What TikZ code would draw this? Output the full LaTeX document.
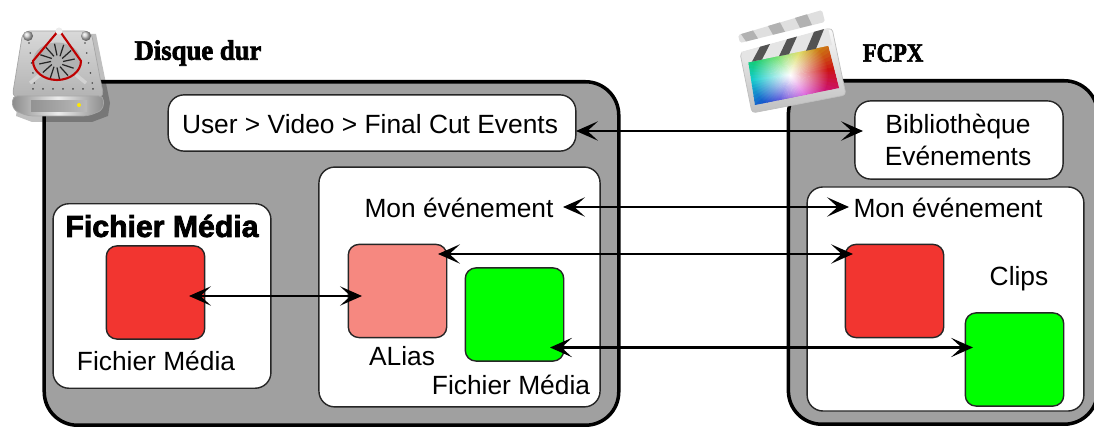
\documentclass[tikz,border=0pt]{standalone}
\usepackage{fontspec}
\setmainfont{Liberation Sans}
\newfontfamily\titlefont[FakeBold=2.4,FakeStretch=0.95]{Liberation Serif Bold}
\newfontfamily\fcpxfont[FakeBold=2.4,FakeStretch=0.86]{Liberation Serif Bold}
\newfontfamily\boxtitlefont[FakeBold=2.6]{Liberation Sans Bold}
\usetikzlibrary{arrows.meta,fadings}

\definecolor{panelgray}{HTML}{A0A0A0}
\definecolor{clipred}{HTML}{F23530}
\definecolor{clipalias}{HTML}{F68880}
\definecolor{clipgreen}{HTML}{00FF00}

\tikzfading[name=rayfade,inner color=transparent!0,outer color=transparent!100]

\tikzset{
    panel/.style={draw=black,line width=2pt,fill=panelgray,rounded corners=19pt,inner sep=0pt},
    whitebox/.style={draw=black!85,line width=0.8pt,fill=white,rounded corners=9pt,inner sep=0pt},
    clip box/.style={draw=black!85,line width=0.8pt,rounded corners=6pt,inner sep=0pt,minimum width=56pt,minimum height=53pt},
    label/.style={inner sep=0pt,font=\fontsize{15}{18.2}\selectfont},
    heading/.style={inner sep=0pt,font=\fontsize{16}{17}\selectfont\titlefont},
    link/.style={line width=1.2pt,{Stealth[length=12.5pt,width=11pt,inset=6pt]}-{Stealth[length=12.5pt,width=11pt,inset=6pt]}}
}

\begin{document}
\begin{tikzpicture}[x=0.02cm,y=0.02cm]
    \useasboundingbox (0,0) rectangle (1094,428);

    %%%% Panels
    \node [panel,minimum width=327pt,minimum height=195.5pt] (diskpanel) at (331.5,174.5) {};
    \node [panel,minimum width=176pt,minimum height=195.5pt] (fcpxpanel) at (943,175.5) {};

    %%%% Disque dur
    \node [whitebox,minimum width=232pt,minimum height=32pt] (pathbox) at (372,305) {};
    \node [label] (pathlabel) at (370,304) {User > Video > Final Cut Events};
    \node [whitebox,minimum width=124pt,minimum height=105pt] (mediabox) at (162,132) {};
    \node [inner sep=0pt,font=\fontsize{17.2}{17}\selectfont\boxtitlefont] (mediatitle) at (162,202) {Fichier Média};
    \node [clip box,fill=clipred] (mediaclip) at (155.5,135.5) {};
    \node [label] (medialabel) at (156,67) {Fichier Média};
    \node [whitebox,minimum width=160pt,minimum height=136.5pt] (eventbox) at (459.5,141) {};
    \node [label] (eventlabel) at (459,220) {Mon événement};
    \node [clip box,fill=clipalias] (aliasclip) at (397.5,137) {};
    \node [label] (aliaslabel) at (402,72) {ALias};
    \node [clip box,fill=clipgreen] (greenclip) at (514.5,113.5) {};
    \node [label] (greenlabel) at (511,43) {Fichier Média};

    %%%% FCPX
    \node [whitebox,minimum width=118.5pt,minimum height=44.5pt] (librarybox) at (959,288) {};
    \node [label,align=center] (librarylabel) at (958,288) {Bibliothèque\\Evénements};
    \node [whitebox,minimum width=157.5pt,minimum height=127.5pt] (clipsbox) at (945.5,129) {};
    \node [label] (clipsevent) at (948,220) {Mon événement};
    \node [clip box,fill=clipred] (redclip) at (894.5,137) {};
    \node [label] (clipslabel) at (1019,149) {Clips};
    \node [clip box,fill=clipgreen] (lastclip) at (1014.5,68.5) {};

    %%%% Headings
    \node [heading] (disktitle) at (198,375) {Disque dur};
    \node [heading,font=\fontsize{15}{17}\selectfont\fcpxfont] (fcpxtitle) at (893,375) {FCPX};

    %%%% Arrows
    \coordinate (pathend) at (576,297);
    \coordinate (libraryend) at (863,297);
    \coordinate (eventleft) at (563,221);
    \coordinate (eventright) at (849,221);
    \coordinate (aliastop) at (438,174);
    \coordinate (redtop) at (853,174);
    \coordinate (mediaend) at (189,132);
    \coordinate (aliasend) at (362,132);
    \coordinate (greenend) at (550,80.5);
    \coordinate (lastend) at (973,80.5);
    \draw [link] (pathend) -- (libraryend);
    \draw [link] (eventleft) -- (eventright);
    \draw [link] (aliastop) -- (redtop);
    \draw [link] (mediaend) -- (aliasend);
    \draw [link] (greenend) -- (lastend);

    %%%% Disk icon
    \fill [black,opacity=0.25] (28,394) -- (96,394) -- (110,325) -- (108,312) -- (92,306) -- (32,306) -- (16,312) -- cycle;
    \shadedraw [draw=gray!70,top color=gray!30,bottom color=gray!60,rounded corners=4pt] (23,397) -- (91,397) -- (104,330) -- (12,330) -- cycle;
    \shade [ball color=gray!40] (28,392) circle (5);
    \shade [ball color=gray!40] (86,392) circle (5);
    \shadedraw [draw=gray!70,left color=gray!90,right color=gray!90,middle color=gray!15,rounded corners=3pt] (12,332) -- (104,332) -- (103,318) -- (88,312) -- (28,312) -- (13,318) -- cycle;
    \shade [left color=gray!85,right color=gray!55] (31,327) rectangle (87,316);
    \fill [yellow!90!orange] (79,323) circle (2);
    \foreach \x in {33,43,...,93}
        \fill [gray!55!black] (\x,339) circle (1);
    \foreach \y in {345,355,...,385} {
        \fill [gray!55!black] ({29-(\y-385)*0.13},\y) circle (0.9);
        \fill [gray!55!black] ({85+(385-\y)*0.18},\y) circle (0.9);
    }
    \draw [gray!35,line width=2pt] (30,345) -- (46,358) (86,345) -- (70,358);
    \draw [fill=gray!60,draw=none] (57,366.5) ellipse (24 and 19);
    \draw [line width=1.2pt,red!75!black,line join=round] (59,398) -- (33,367) arc (180:360:24 and 19) -- cycle;
    \fill [gray!15] (59,397) circle (3.5);
    \foreach \a in {0,30,...,330}
        \draw [gray!30!black,line width=0.7pt] (57,366.5) ++(\a:6) -- ++(\a+12:12);

    %%%% Clapper icon
    \shadedraw [draw=gray!50,top color=gray!5,bottom color=gray!50,rounded corners=2pt] (740,375) -- (832,400) -- (846,333) -- (752,315) -- cycle;
    \begin{scope}
        \clip (748,368) -- (828,383) -- (839,340) -- (755,323) -- cycle;
        \foreach \a in {0,5,...,355} {
            \pgfmathsetmacro{\hue}{mod(\a+355,360)/360}
            \definecolor{rayhue}{hsb}{\hue,0.9,0.8}
            \fill [rayhue] (790,353) -- +(\a:70) -- +(\a+6:70) -- cycle;
        }
        \fill [white,path fading=rayfade] (790,353) circle (38);
    \end{scope}
    % Hinge bar
    \fill [gray!20] (741,376) -- (828,400) -- (832,383) -- (745,365) -- cycle;
    % Top stick
    \fill [gray!25,rounded corners=1pt] (738,393) -- (822,418) -- (825,406) -- (740,385) -- cycle;
    \foreach \x in {752,779,806} {
        \fill [gray!65!black] (\x,{365+0.2*(\x-745)}) -- (\x+10,{365+0.2*(\x+10-745)}) -- (\x+18,{376+0.276*(\x+18-741)}) -- (\x+8,{376+0.276*(\x+8-741)}) -- cycle;
        \fill [gray!60] (\x-6,{385+0.25*(\x-6-740)}) -- (\x+6,{385+0.25*(\x+6-740)}) -- (\x+1,{393+0.3*(\x+1-738)}) -- (\x-11,{393+0.3*(\x-11-738)}) -- cycle;
    }

\end{tikzpicture}
\end{document}
